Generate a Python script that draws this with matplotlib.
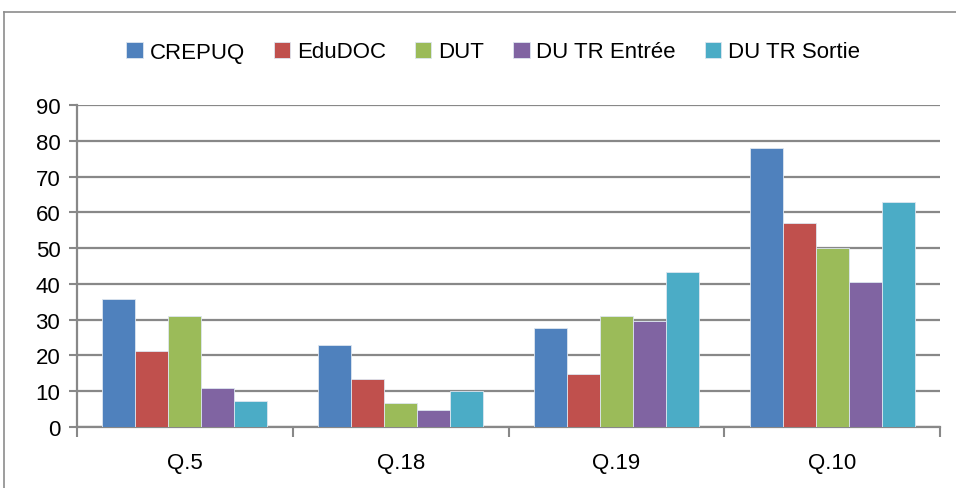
import numpy as np
import matplotlib.pyplot as plt
from matplotlib.lines import Line2D

plt.rcParams['font.family'] = ['Liberation Sans', 'DejaVu Sans']

categories = ['Q.5', 'Q.18', 'Q.19', 'Q.10']
series = ['CREPUQ', 'EduDOC', 'DUT', 'DU TR Entrée', 'DU TR Sortie']
crepuq = [35.7, 23.0, 27.7, 78.1]
edudoc = [21.3, 13.4, 14.8, 56.9]
dut = [30.9, 6.8, 31.0, 50.0]
du_tr_entree = [10.9, 4.8, 29.7, 40.5]
du_tr_sortie = [7.4, 10.1, 43.2, 62.9]
colors = ['#4F81BD', '#C0504D', '#9BBB59', '#8064A2', '#4BACC6']

values = [crepuq, edudoc, dut, du_tr_entree, du_tr_sortie]

fig = plt.figure(figsize=(9.56, 4.89), dpi=100)
ax = fig.add_axes([77 / 956, 1 - 428 / 489, 863 / 956, 322 / 489])

x = np.arange(len(categories))
w = 0.153
for i, (vals, name, c) in enumerate(zip(values, series, colors)):
    ax.bar(x + (i - 2) * w, vals, w, color=c, label=name,
           edgecolor='#dde6f0', linewidth=0.6, zorder=3)

ax.set_xlim(-0.5, len(categories) - 0.5)
ax.set_ylim(0, 90)
ax.set_yticks(range(0, 91, 10))
ax.yaxis.grid(True, color='#888888', linewidth=1.6, zorder=0)
ax.set_axisbelow(True)

# category labels centred, tick marks on the group boundaries
ax.set_xticks(np.arange(-0.5, len(categories)), minor=False)
ax.set_xticklabels([])
ax.set_xticks(x, minor=True)
ax.set_xticklabels(categories, minor=True)
ax.tick_params(axis='x', which='major', length=7, width=1.5, color='#888888')
ax.tick_params(axis='x', which='minor', length=0, pad=18, labelsize=16)
ax.tick_params(axis='y', length=6, width=1.5, color='#888888', labelsize=16, pad=6)

for s in ['top', 'right']:
    ax.spines[s].set_visible(False)
for s in ['left', 'bottom']:
    ax.spines[s].set_color('#888888')
    ax.spines[s].set_linewidth(1.6)

fig.legend(loc='center', bbox_to_anchor=(493 / 956, 1 - 53 / 489), ncol=5,
           frameon=False, fontsize=16, handlelength=0.75, handleheight=0.75,
           handletextpad=0.3, columnspacing=1.3)

# outer chart frame
fig.add_artist(Line2D([4 / 956, 1.0], [1 - 13 / 489] * 2, color='#8c8c8c', lw=1.2))
fig.add_artist(Line2D([4 / 956] * 2, [0.0, 1 - 13 / 489], color='#8c8c8c', lw=1.2))

fig.savefig('out.png', dpi=100)
